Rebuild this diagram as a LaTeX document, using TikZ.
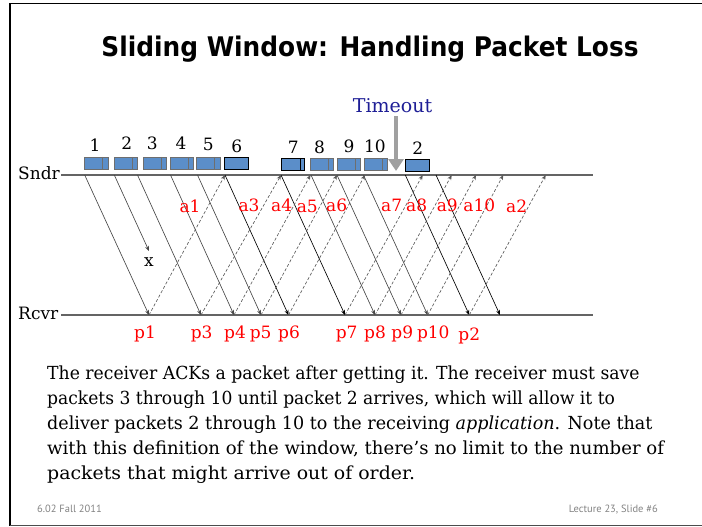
\documentclass[tikz,border=0pt]{standalone}
\usepackage{graphicx}
\usepackage{fontspec}
\setmainfont{DejaVu Serif}
\newfontfamily\titlefont{DejaVu Sans Bold}[FakeStretch=0.92]
\newfontfamily\bodyfont{DejaVu Serif}
\newfontfamily\footfont{PT Sans}
\usetikzlibrary{arrows.meta}

\definecolor{pktblue}{RGB}{91,142,201}
\definecolor{tmoblue}{RGB}{30,30,150}
\definecolor{footgray}{RGB}{130,130,130}
\definecolor{wiregray}{RGB}{100,100,100}
\definecolor{boxgray}{RGB}{110,110,110}
\definecolor{tmogray}{RGB}{160,160,160}

\begin{document}
\begin{tikzpicture}[x=1pt,y=-1pt,
  txt/.style={inner sep=0pt, font=\bodyfont\fontsize{17}{20}\selectfont},
  bodyline/.style={inner sep=0pt, anchor=base west, font=\bodyfont\fontsize{18}{22}\selectfont},
  seqno/.style={txt, anchor=base},
  redlbl/.style={txt, anchor=base, text=red},
  pktbox/.style={draw=boxgray, line width=0.9pt, fill=pktblue, minimum height=12pt, inner sep=0pt},
  pktboxdark/.style={pktbox, draw=black},
  divider/.style={draw=boxgray, line width=0.9pt},
  wire/.style={draw=wiregray, line width=1.4pt},
  pktarrow/.style={draw=black!72, line width=0.65pt, -{Stealth[length=5pt,width=4pt]}},
  pktarrowdark/.style={pktarrow, draw=black},
  ackarrow/.style={draw=black!65, line width=0.65pt, dash pattern=on 3pt off 2pt, -{Stealth[length=5pt,width=4pt]}},
  tmoarrow/.style={draw=tmogray, line width=3.3pt, -{Triangle[length=12pt,width=15pt]}},
  foottxt/.style={inner sep=0pt, font=\footfont\fontsize{10.5}{12}\selectfont, text=footgray}
]
\useasboundingbox (0,0) rectangle (702,527);

% slide frame
\coordinate (ftl) at (10,3.5);
\coordinate (ftr) at (704,3.5);
\coordinate (fbl) at (10,525.5);
\coordinate (fbr) at (704,525.5);
\draw[line width=1.6pt, black] (fbl) -- (ftl) -- (ftr);
\draw[line width=1.6pt, black!70] (fbl) -- (fbr);

% title
\node[font=\titlefont\fontsize{27}{30}\selectfont, anchor=base, inner sep=0pt] (title) at (370,57) {Sliding Window: Handling Packet Loss};

% sender and receiver time lines
\node[txt, anchor=base west] (sndr) at (18,179) {Sndr};
\node[txt, anchor=base west] (rcvr) at (18,319) {Rcvr};
\coordinate (sL) at (61,175);
\coordinate (sR) at (593,175);
\coordinate (rL) at (61,315);
\coordinate (rR) at (593,315);
\draw[wire] (sL) -- (sR);
\draw[wire] (rL) -- (rR);

% packets in the sender window
\node[pktbox, minimum width=23.6pt] (b1) at (96.5,163.3) {};
\node[pktbox, minimum width=23.4pt] (b2) at (126,163.3) {};
\node[pktbox, minimum width=23.4pt] (b3) at (155,163.3) {};
\node[pktbox, minimum width=23.4pt] (b4) at (182,163.3) {};
\node[pktbox, minimum width=23.3pt] (b5) at (208.35,163.3) {};
\node[pktboxdark, minimum width=23.6pt] (b6) at (236.5,163.3) {};
\node[pktboxdark, minimum width=23pt] (b7) at (292.5,164.3) {};
\node[pktbox, minimum width=23.4pt] (b8) at (322,164.5) {};
\node[pktbox, minimum width=23.4pt] (b9) at (349,164.5) {};
\node[pktbox, minimum width=23.3pt] (b10) at (375.65,164.7) {};
\node[pktboxdark, minimum width=23.7pt] (b11) at (417.15,165.3) {};

\foreach \b/\d in {b1/6,b2/6,b3/6,b4/6,b5/6,b8/6,b9/6,b10/5.6}
  \draw[divider] ([xshift=-\d pt]\b.north east) -- ([xshift=-\d pt]\b.south east);
\draw[divider, draw=black] ([xshift=-4pt]b7.north east) -- ([xshift=-4pt]b7.south east);

% sequence numbers
\node[seqno] (n1) at (95,151) {1};
\node[seqno] (n2) at (126.7,149.5) {2};
\node[seqno] (n3) at (152.3,149.5) {3};
\node[seqno] (n4) at (181,149.5) {4};
\node[seqno] (n5) at (208.3,150.5) {5};
\node[seqno] (n6) at (236.7,152.5) {6};
\node[seqno] (n7) at (293.3,153) {7};
\node[seqno] (n8) at (319.5,153) {8};
\node[seqno] (n9) at (349,152) {9};
\node[seqno] (n10) at (375,152) {10};
\node[seqno] (n11) at (417.7,154) {2};

% timeout marker
\node[inner sep=0pt, anchor=base, text=tmoblue, font=\bodyfont\fontsize{19}{22}\selectfont] (tmo) at (392.5,112.3) {Timeout};
\coordinate (tmotip) at (396,171);
\draw[tmoarrow] (tmotip |- tmo.south) ++(0,3.5) -- (tmotip);

% send points on the sender line
\coordinate (s1) at (84.7,175);
\coordinate (s2) at (114.3,175);
\coordinate (s3) at (137.5,175);
\coordinate (s4) at (170.5,175);
\coordinate (s5) at (197.5,175);
\coordinate (s6) at (225,175);
\coordinate (s7) at (281,175);
\coordinate (s8) at (311,175);
\coordinate (s9) at (337,175);
\coordinate (s10) at (363.5,175);
\coordinate (s11) at (405.3,175);
\coordinate (s12) at (436,175);

% arrival points on the receiver line
\coordinate (r1) at (149,315);
\coordinate (r3) at (201,315);
\coordinate (r4) at (234,315);
\coordinate (r5) at (261,315);
\coordinate (r6) at (288.5,315);
\coordinate (r7) at (345,315);
\coordinate (r8) at (375,315);
\coordinate (r9) at (401,315);
\coordinate (r10) at (427.7,315);
\coordinate (r11) at (469.3,315);
\coordinate (r12) at (500,315);

% ACK arrival points on the sender line
\coordinate (k1) at (225,175);
\coordinate (k3) at (281,175);
\coordinate (k4) at (310.5,175);
\coordinate (k5) at (337,175);
\coordinate (k6) at (365,175);
\coordinate (k7) at (422.7,175);
\coordinate (k8) at (451.7,175);
\coordinate (k9) at (476,175);
\coordinate (k10) at (503.3,175);
\coordinate (k11) at (545.7,175);

% the lost packet
\coordinate (lost) at (149,251);
\draw[pktarrow] (s2) -- (lost);
\node[txt, anchor=base] (xmark) at (149,266) {x};

% data packets
\draw[pktarrow] (s1) -- (r1);
\draw[pktarrow] (s3) -- (r3);
\draw[pktarrow] (s4) -- (r4);
\draw[pktarrow] (s5) -- (r5);
\draw[pktarrowdark] (s6) -- (r6);
\draw[pktarrowdark] (s7) -- (r7);
\draw[pktarrow] (s8) -- (r8);
\draw[pktarrow] (s9) -- (r9);
\draw[pktarrow] (s10) -- (r10);
\draw[pktarrowdark] (s11) -- (r11);
\draw[pktarrowdark] (s12) -- (r12);

% acknowledgements
\draw[ackarrow] (r1) -- (k1);
\draw[ackarrow] (r3) -- (k3);
\draw[ackarrow] (r4) -- (k4);
\draw[ackarrow] (r5) -- (k5);
\draw[ackarrow] (r6) -- (k6);
\draw[ackarrow] (r7) -- (k7);
\draw[ackarrow] (r8) -- (k8);
\draw[ackarrow] (r9) -- (k9);
\draw[ackarrow] (r10) -- (k10);
\draw[ackarrow] (r11) -- (k11);

% ACK labels
\node[redlbl] (la1) at (190,212) {a1};
\node[redlbl] (la3) at (249,211) {a3};
\node[redlbl] (la4) at (281.7,211) {a4};
\node[redlbl] (la5) at (307.3,212) {a5};
\node[redlbl] (la6) at (336.7,211) {a6};
\node[redlbl] (la7) at (391.7,211) {a7};
\node[redlbl] (la8) at (416.7,211) {a8};
\node[redlbl] (la9) at (447.3,211) {a9};
\node[redlbl] (la10) at (479.3,211) {a10};
\node[redlbl] (la2) at (516.7,212) {a2};

% arrival labels
\node[redlbl] (lp1) at (145,338) {p1};
\node[redlbl] (lp3) at (201.7,338) {p3};
\node[redlbl] (lp4) at (235,338) {p4};
\node[redlbl] (lp5) at (260.7,338) {p5};
\node[redlbl] (lp6) at (289,338) {p6};
\node[redlbl] (lp7) at (346.7,338) {p7};
\node[redlbl] (lp8) at (375,338) {p8};
\node[redlbl] (lp9) at (402.3,338) {p9};
\node[redlbl] (lp10) at (433.3,338) {p10};
\node[redlbl] (lp2) at (469.3,340) {p2};

% explanation, one node per printed line
\node[bodyline] (t1) at (47,379) {\scalebox{0.957}[1]{The receiver ACKs a packet after getting it. The receiver must save}};
\node[bodyline] (t2) at (47,404) {\scalebox{0.951}[1]{packets 3 through 10 until packet 2 arrives, which will allow it to}};
\node[bodyline] (t3) at (47,429) {\scalebox{0.975}[1]{deliver packets 2 through 10 to the receiving \textit{application}. Note that}};
\node[bodyline] (t4) at (47,454) {\scalebox{1.004}[1]{with this definition of the window, there’s no limit to the number of}};
\node[bodyline] (t5) at (47,479) {\scalebox{1.05}[1]{packets that might arrive out of order.}};

% footer
\node[foottxt, anchor=base west] (foot1) at (37,512) {6.02 Fall 2011};
\node[foottxt, anchor=base east] (foot2) at (658,512) {Lecture 23, Slide \#6};
\end{tikzpicture}
\end{document}
